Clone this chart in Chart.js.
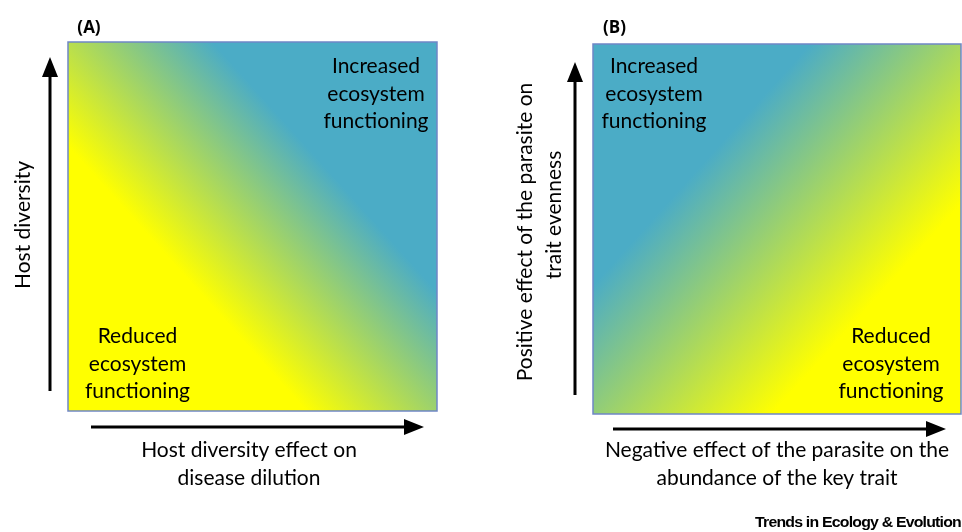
<!DOCTYPE html>
<html><head><meta charset="utf-8">
<script src="https://cdn.jsdelivr.net/npm/chart.js@4"></script>
<style>
html,body{margin:0;padding:0;background:#fff;overflow:hidden}
#wrap{position:relative;width:962px;height:532px}
canvas{position:absolute;left:0;top:0}
</style></head>
<body><div id="wrap"><canvas id="cA" width="962" height="532"></canvas><canvas id="cB" width="962" height="532"></canvas></div>
<script>
// ---- content ----
const panelTags = ['(A)', '(B)'];
const xTitleA = ['Host diversity effect on', 'disease dilution'];
const yTitleA = ['Host diversity'];
const xTitleB = ['Negative effect of the parasite on the', 'abundance of the key trait'];
const yTitleB = ['Positive effect of the parasite on', 'trait evenness'];
const highLabel = ['Increased', 'ecosystem', 'functioning'];
const lowLabel = ['Reduced', 'ecosystem', 'functioning'];
// gradient stops (fraction along the gradient axis)
const stopPosA = [0, 0.34, 0.68, 1];
const stopColorsA = ['#FFFF00', '#FFFF00', '#4BACC6', '#4BACC6'];
const stopPosB = [0, 0.31, 0.73, 1];
const stopColorsB = ['#4BACC6', '#4BACC6', '#FFFF00', '#FFFF00'];
const sourceNote = 'Trends in Ecology & Evolution';

const FONT = 'Lato, "Open Sans", "DejaVu Sans", sans-serif';
const TXT = '#000000';

function arrow(ctx, x1, y1, x2, y2) {
  const ang = Math.atan2(y2 - y1, x2 - x1);
  const hl = 20, hw = 8;
  const bx = x2 - hl * Math.cos(ang), by = y2 - hl * Math.sin(ang);
  ctx.save();
  ctx.strokeStyle = '#000'; ctx.fillStyle = '#000'; ctx.lineWidth = 3;
  ctx.beginPath(); ctx.moveTo(x1, y1); ctx.lineTo(bx, by); ctx.stroke();
  ctx.beginPath();
  ctx.moveTo(x2, y2);
  ctx.lineTo(bx + hw * Math.sin(ang), by - hw * Math.cos(ang));
  ctx.lineTo(bx - hw * Math.sin(ang), by + hw * Math.cos(ang));
  ctx.closePath(); ctx.fill();
  ctx.restore();
}
function lines(ctx, arr, cx, baselines, font) {
  ctx.save(); ctx.font = font; ctx.fillStyle = TXT; ctx.textAlign = 'center'; ctx.textBaseline = 'alphabetic';
  arr.forEach((t, i) => ctx.fillText(t, cx, baselines[i]));
  ctx.restore();
}
function vtext(ctx, t, bx, cy, font) {
  ctx.save(); ctx.translate(bx, cy); ctx.rotate(-Math.PI / 2);
  ctx.font = font; ctx.fillStyle = TXT; ctx.textAlign = 'center'; ctx.textBaseline = 'alphabetic';
  ctx.fillText(t, 0, 0); ctx.restore();
}

function makePanel(id, cfg) {
  const plugin = {
    id: 'panel' + id,
    beforeDatasetsDraw(chart) {
      const ctx = chart.ctx, a = chart.chartArea;
      const w = a.right - a.left, h = a.bottom - a.top;
      const th = cfg.angle * Math.PI / 180, c = Math.cos(th), s = Math.sin(th);
      const L = w * c + h * s;
      let g;
      if (cfg.dir === 'up') {
        g = ctx.createLinearGradient(a.left, a.bottom, a.left + L * c, a.bottom - L * s);
      } else {
        g = ctx.createLinearGradient(a.left, a.top, a.left + L * c, a.top + L * s);
      }
      cfg.stops.forEach((p, i) => g.addColorStop(p, cfg.colors[i]));
      ctx.save();
      ctx.fillStyle = g;
      ctx.fillRect(a.left, a.top, w, h);
      ctx.strokeStyle = '#6F86C6'; ctx.lineWidth = 1.5;
      ctx.strokeRect(a.left, a.top, w, h);
      ctx.restore();
    },
    afterDraw(chart) {
      cfg.draw(chart.ctx, chart.chartArea);
    }
  };
  return new Chart(document.getElementById(id), {
    type: 'scatter',
    data: { datasets: [{ data: [] }] },
    options: {
      responsive: false, animation: false, events: [],
      layout: { padding: cfg.padding },
      scales: { x: { display: false, min: 0, max: 1 }, y: { display: false, min: 0, max: 1 } },
      plugins: { legend: { display: false }, tooltip: { enabled: false } }
    },
    plugins: [plugin]
  });
}

function build() {
  const f = '21px ' + FONT;
  const tagFont = 'bold 17px "Open Sans", "DejaVu Sans", sans-serif';
  makePanel('cA', {
    padding: { left: 68, top: 42, right: 962 - 437, bottom: 532 - 411 },
    dir: 'up', angle: 42, stops: stopPosA, colors: stopColorsA,
    draw(ctx) {
      lines(ctx, highLabel, 376, [73, 100.5, 128], f);
      lines(ctx, lowLabel, 137.5, [343, 371, 398], f);
      lines(ctx, xTitleA, 249, [457, 485], f);
      vtext(ctx, yTitleA[0], 30, 225, f);
      lines(ctx, [panelTags[0]], 89, [33], tagFont);
      arrow(ctx, 50, 391, 50, 57);
      arrow(ctx, 91, 427, 424, 427);
    }
  });
  makePanel('cB', {
    padding: { left: 593, top: 44, right: 1, bottom: 532 - 414 },
    dir: 'down', angle: 42, stops: stopPosB, colors: stopColorsB,
    draw(ctx) {
      lines(ctx, highLabel, 654, [73, 100.5, 128], f);
      lines(ctx, lowLabel, 891, [343, 371, 398], f);
      lines(ctx, xTitleB, 777, [457, 485], f);
      vtext(ctx, yTitleB[0], 532, 232, f);
      vtext(ctx, yTitleB[1], 561, 215, f);
      lines(ctx, [panelTags[1]], 614.5, [33], tagFont);
      arrow(ctx, 575, 395, 575, 62);
      arrow(ctx, 613, 429, 946, 429);
      // source note
      ctx.save();
      ctx.font = 'bold 14px "Liberation Sans", Arial, sans-serif';
      try { ctx.letterSpacing = '-0.7px'; } catch (e) {}
      ctx.fillStyle = '#000'; ctx.textBaseline = 'alphabetic'; ctx.textAlign = 'left';
      const w = ctx.measureText(sourceNote).width, target = 206;
      ctx.translate(961 - target, 527); ctx.scale(target / w, 1);
      ctx.fillText(sourceNote, 0, 0);
      ctx.restore();
    }
  });
}
if (document.fonts && document.fonts.load) {
  Promise.all([document.fonts.load('21px Lato'), document.fonts.load('bold 17px "Open Sans"')]).then(build, build);
} else build();
</script></body></html>
